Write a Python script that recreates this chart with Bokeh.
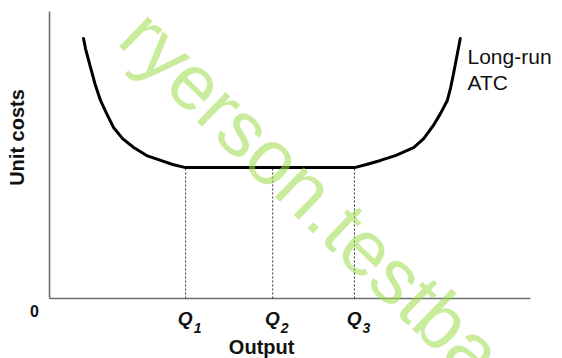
import math
from bokeh.plotting import figure
from bokeh.models import Range1d
from bokeh.core.properties import value
from bokeh.embed import file_html
from bokeh.resources import INLINE

# ---- data ----
curve_output = [7.07, 7.48, 8.52, 9.56, 10.6, 11.85, 13.3, 15.2, 17.5, 20.2, 23.1, 25.6, 28.3,
                63.4, 65.9, 68.8, 71.9, 75.7, 77.8, 79.8, 81.3, 82.7, 83.4, 84.0, 84.6, 85.4]
curve_cost = [90.6, 87.1, 80.5, 74.2, 69.0, 64.5, 59.6, 55.7, 52.6, 49.8, 48.1, 46.7, 45.6,
              45.6, 46.7, 48.1, 49.8, 52.6, 55.7, 60.3, 64.5, 69.0, 73.5, 78.4, 83.6, 90.6]
q_values = [28.3, 46.4, 63.4]
q_letters = ["Q", "Q", "Q"]
q_subscripts = ["1", "2", "3"]
min_cost = 45.6
axis_max_x = 100
axis_max_y = 100

FONT = value("Liberation Sans")

p = figure(width=562, height=358, output_backend="svg", toolbar_location=None,
           x_range=Range1d(-10.19, 106.65), y_range=Range1d(-20.91, 103.83),
           min_border=0)
p.xaxis.visible = False
p.yaxis.visible = False
p.xgrid.visible = False
p.ygrid.visible = False
p.outline_line_color = None
p.background_fill_color = "white"
p.border_fill_color = "white"

# axes
p.segment(x0=[0, 0], y0=[0, 0], x1=[axis_max_x, 0], y1=[0, axis_max_y],
          line_color="#6e6e6e", line_width=1.6)

# dashed guides
p.segment(x0=q_values, y0=[0] * 3, x1=q_values, y1=[min_cost] * 3,
          line_color="#333333", line_width=1, line_dash="2 2")

# long-run ATC curve
p.line(curve_output, curve_cost, line_color="black", line_width=3,
       line_join="round", line_cap="round")

# Q labels with subscripts
p.text(x=q_values, y=[-7.0] * 3, text=q_letters, x_offset=7, text_align="right",
       text_baseline="middle", text_font=FONT, text_font_size="19px",
       text_font_style="bold italic", text_color="#111111")
p.text(x=q_values, y=[-10.35] * 3, text=q_subscripts, x_offset=8, text_align="left",
       text_baseline="middle", text_font=FONT, text_font_size="14px",
       text_font_style="bold italic", text_color="#111111")

# origin label
p.text(x=[-3.12], y=[-4.53], text=["0"], text_align="center", text_baseline="middle",
       text_font=FONT, text_font_size="16px", text_font_style="bold", text_color="#111111")

# axis titles
p.text(x=[44.1], y=[-17.0], text=["Output"], text_align="center", text_baseline="middle",
       text_font=FONT, text_font_size="20px", text_font_style="bold", text_color="#111111")
p.text(x=[-6.85], y=[56.1], text=["Unit costs"], angle=math.pi / 2, text_align="center",
       text_baseline="middle", text_font=FONT, text_font_size="20px",
       text_font_style="bold", text_color="#111111")

# curve label
p.text(x=[86.9, 86.9], y=[84.15, 75.4], text=["Long-run", "ATC"], text_align="left",
       text_baseline="middle", text_font=FONT, text_font_size="21px",
       text_color="#111111")

# watermark
p.text(x=[17.6], y=[95.9], text=["ryerson.testbank"], angle=math.radians(-44),
       text_align="left", text_baseline="middle", text_font=FONT,
       text_font_size="78px", text_color="#9bdc49", text_alpha=0.55)

open("out.html", "w").write(file_html(p, INLINE))
